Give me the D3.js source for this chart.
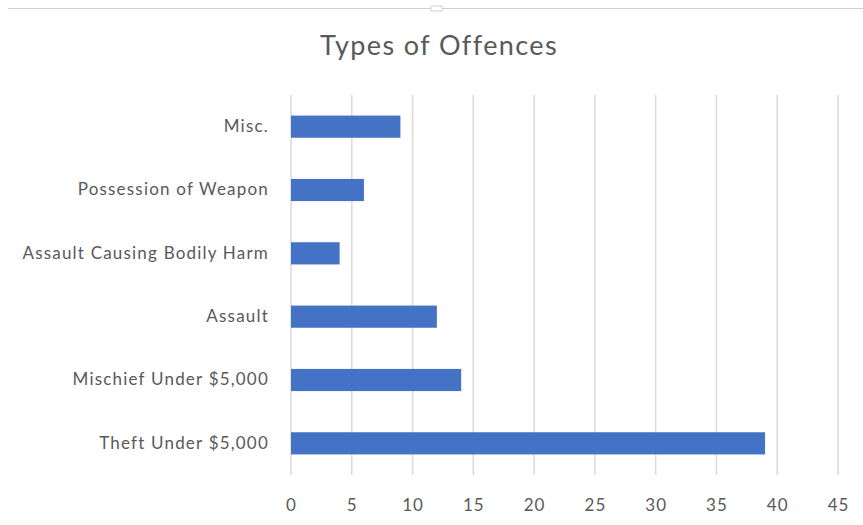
<!DOCTYPE html>
<html>
<head>
<meta charset="utf-8">
<script src="https://cdn.jsdelivr.net/npm/d3@7"></script>
<style>
  body { margin: 0; background: #fff; }
  text { font-family: Lato, "Open Sans", sans-serif; fill: #595959; }
</style>
</head>
<body>
<div id="chart"></div>
<script>
// Data
const categories = ["Misc.", "Possession of Weapon", "Assault Causing Bodily Harm", "Assault", "Mischief Under $5,000", "Theft Under $5,000"];
const counts = [9, 6, 4, 12, 14, 39];
const xTicks = [0, 5, 10, 15, 20, 25, 30, 35, 40, 45];

const width = 863;
const height = 525;
const margin = { top: 95, right: 25, bottom: 50, left: 291 };

const svg = d3.select("#chart")
    .append("svg")
    .attr("width", width)
    .attr("height", height);

// Faint frame from the screenshot
svg.append("line")
    .attr("x1", 8).attr("x2", width)
    .attr("y1", 8.5).attr("y2", 8.5)
    .attr("stroke", "#d0d0d0");
svg.append("rect")
    .attr("x", 431).attr("y", 6)
    .attr("width", 11).attr("height", 5)
    .attr("fill", "#fff")
    .attr("stroke", "#d0d0d0");

// Title
svg.append("text")
    .attr("x", 439)
    .attr("y", 55)
    .attr("text-anchor", "middle")
    .style("font-size", "27px")
    .style("letter-spacing", "1.4px")
    .text("Types of Offences");

// Scales
const x = d3.scaleLinear()
    .domain([0, 45])
    .range([margin.left, margin.left + 547]);

const y = d3.scaleBand()
    .domain(categories)
    .range([margin.top, margin.top + 380])
    .paddingInner(0.65)
    .paddingOuter(0.325);

// Gridlines
svg.append("g")
    .selectAll("line")
    .data(xTicks)
    .enter()
    .append("line")
    .attr("x1", d => x(d))
    .attr("x2", d => x(d))
    .attr("y1", margin.top)
    .attr("y2", margin.top + 380)
    .attr("stroke", "#d9d9d9")
    .attr("stroke-width", 1.5);

// Bars
svg.append("g")
    .selectAll("rect")
    .data(categories)
    .enter()
    .append("rect")
    .attr("x", x(0))
    .attr("y", d => y(d))
    .attr("width", (d, i) => x(counts[i]) - x(0))
    .attr("height", y.bandwidth())
    .attr("fill", "#4472c4");

// X axis (labels only)
const xAxis = svg.append("g")
    .attr("transform", `translate(0, ${margin.top + 380})`)
    .call(d3.axisBottom(x).tickValues(xTicks).tickSize(0).tickPadding(24));
xAxis.select(".domain").remove();
xAxis.selectAll("text")
    .style("font-size", "17px")
    .style("letter-spacing", "1px")
    .style("font-family", "Lato, sans-serif")
    .attr("fill", "#595959");

// Y axis (labels only)
const yAxis = svg.append("g")
    .attr("transform", `translate(${margin.left}, 0)`)
    .call(d3.axisLeft(y).tickSize(0).tickPadding(22));
yAxis.select(".domain").remove();
yAxis.selectAll("text")
    .style("font-size", "17px")
    .style("letter-spacing", "1.2px")
    .style("font-family", "Lato, sans-serif")
    .attr("fill", "#595959");
</script>
</body>
</html>
